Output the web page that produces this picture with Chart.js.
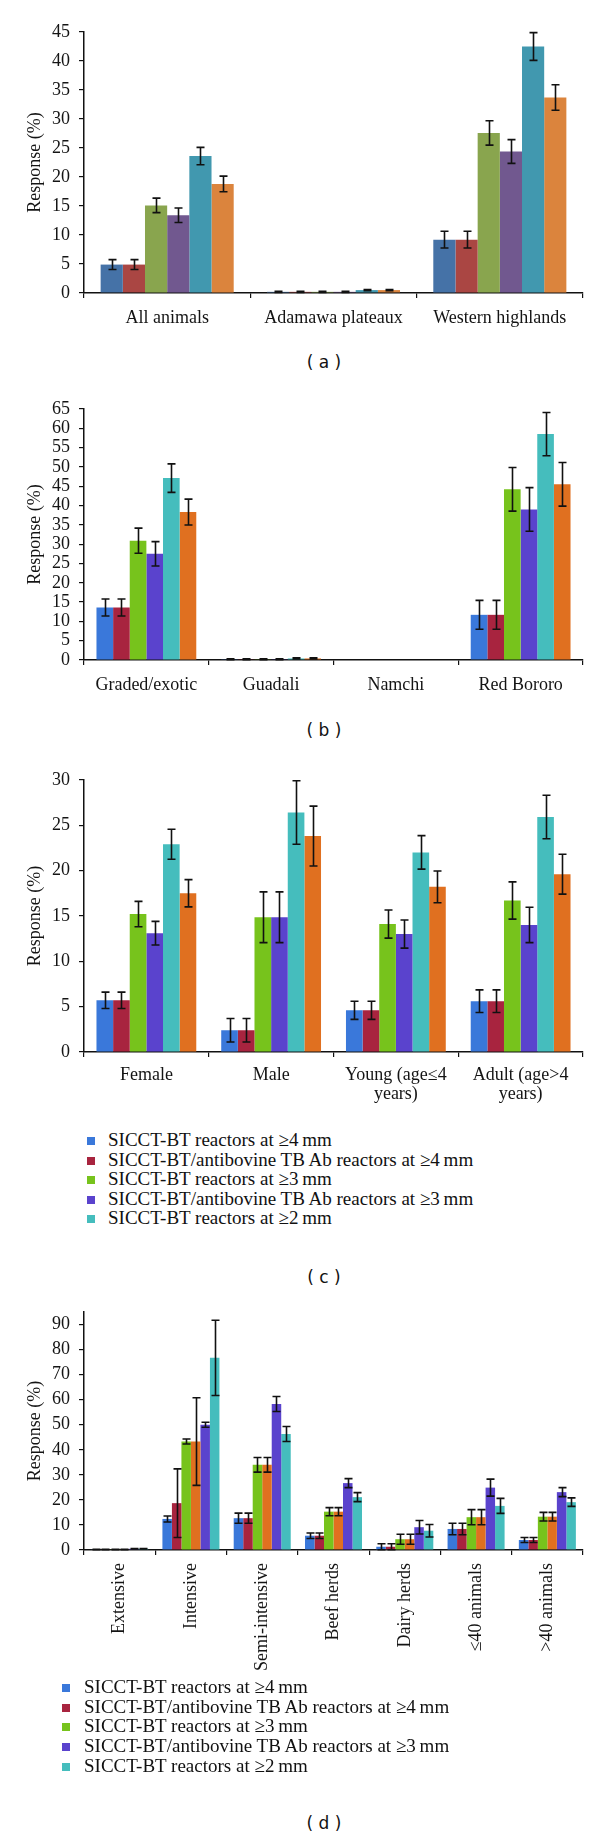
<!DOCTYPE html>
<html>
<head>
<meta charset="utf-8">
<script src="https://cdn.jsdelivr.net/npm/chart.js@4.4.1/dist/chart.umd.min.js"></script>
<style>
  html, body { margin:0; padding:0; background:#fff; }
  body { width:600px; height:1839px; position:relative; overflow:hidden; }
  canvas { position:absolute; left:0; }
  .sub { position:absolute; left:274px; width:100px; text-align:center; font-family:"DejaVu Sans", sans-serif; font-size:17px; color:#111; line-height:20px; white-space:pre; }
  .leg { position:absolute; font-family:"Liberation Serif", serif; font-size:19px; color:#111; line-height:20px; white-space:nowrap; }
  .sw { position:absolute; width:8px; height:8px; }
</style>
</head>
<body>
<canvas id="ca" width="600" height="345" style="top:0px"></canvas>
<canvas id="cb" width="600" height="325" style="top:380px"></canvas>
<canvas id="cc" width="600" height="355" style="top:760px"></canvas>
<canvas id="cd" width="600" height="390" style="top:1290px"></canvas>
<div class="sub" style="top:352px">( a )</div>
<div class="sub" style="top:720px">( b )</div>
<div class="sub" style="top:1267px">( c )</div>
<div class="sub" style="top:1813px">( d )</div>
<div id="legc"></div>
<div id="legd"></div>
<script>
// ---------- Panel (a) ----------
const A_CATS = ['All animals', 'Adamawa plateaux', 'Western highlands'];
const A_S1 = [4.9, 0.2, 9.2];   const A_E1 = [0.85, 0.1, 1.45];
const A_S2 = [4.9, 0.2, 9.2];   const A_E2 = [0.85, 0.1, 1.45];
const A_S3 = [15.1, 0.2, 27.6]; const A_E3 = [1.25, 0.1, 2.1];
const A_S4 = [13.4, 0.2, 24.4]; const A_E4 = [1.25, 0.1, 2.05];
const A_S5 = [23.6, 0.5, 42.5]; const A_E5 = [1.5, 0.1, 2.4];
const A_S6 = [18.8, 0.5, 33.7]; const A_E6 = [1.35, 0.1, 2.2];
const A_COLORS = ['#4572A7', '#AA4643', '#89A54E', '#71588F', '#4198AF', '#DB843D'];

// ---------- Panel (b) ----------
const B_CATS = ['Graded/exotic', 'Guadali', 'Namchi', 'Red Bororo'];
const B_S1 = [13.6, 0.2, 0, 11.7]; const B_E1 = [2.2, 0.1, 0, 3.75];
const B_S2 = [13.6, 0.2, 0, 11.7]; const B_E2 = [2.2, 0.1, 0, 3.75];
const B_S3 = [30.9, 0.2, 0, 44.2]; const B_E3 = [3.25, 0.1, 0, 5.65];
const B_S4 = [27.5, 0.2, 0, 39.0]; const B_E4 = [3.15, 0.1, 0, 5.65];
const B_S5 = [47.1, 0.4, 0, 58.5]; const B_E5 = [3.7, 0.15, 0, 5.6];
const B_S6 = [38.3, 0.4, 0, 45.5]; const B_E6 = [3.35, 0.15, 0, 5.65];

// ---------- Panel (c) ----------
const C_CATS = ['Female', 'Male', ['Young (age\u22644', 'years)'], ['Adult (age>4', 'years)']];
const C_S1 = [5.7, 2.4, 4.6, 5.6];     const C_E1 = [0.9, 1.3, 1.0, 1.25];
const C_S2 = [5.7, 2.4, 4.6, 5.6];     const C_E2 = [0.9, 1.3, 1.0, 1.25];
const C_S3 = [15.2, 14.85, 14.1, 16.7]; const C_E3 = [1.4, 2.8, 1.55, 2.05];
const C_S4 = [13.1, 14.85, 13.0, 14.0]; const C_E4 = [1.3, 2.8, 1.55, 1.95];
const C_S5 = [22.9, 26.4, 22.0, 25.9];  const C_E5 = [1.65, 3.5, 1.85, 2.4];
const C_S6 = [17.5, 23.8, 18.2, 19.6];  const C_E6 = [1.5, 3.3, 1.75, 2.2];
const BC_COLORS = ['#3A78DA', '#A8243F', '#77C31C', '#5A43CD', '#45BDBD', '#E07020'];

// ---------- Panel (d) ----------
const D_CATS = ['Extensive', 'Intensive', 'Semi-intensive', 'Beef herds', 'Dairy herds', '\u226440 animals', '>40 animals'];
const D_S1 = [0.2, 12.4, 12.7, 5.7, 1.3, 8.4, 4.0];    const D_E1 = [0.1, 1.2, 2.0, 1.1, 1.2, 2.3, 1.0];
const D_S2 = [0.2, 18.7, 12.7, 5.7, 1.3, 8.4, 4.0];    const D_E2 = [0.1, 13.7, 2.0, 1.1, 1.2, 2.3, 1.0];
const D_S3 = [0.2, 43.3, 34.0, 15.3, 4.3, 13.1, 13.3]; const D_E3 = [0.1, 1.0, 2.9, 1.6, 2.0, 3.0, 1.7];
const D_S4 = [0.2, 43.3, 34.0, 15.3, 4.3, 13.1, 13.3]; const D_E4 = [0.1, 17.5, 2.9, 1.6, 2.0, 3.0, 1.7];
const D_S5 = [0.5, 50.0, 58.3, 26.7, 9.1, 24.9, 23.1]; const D_E5 = [0.1, 1.0, 3.0, 1.8, 2.7, 3.4, 1.8];
const D_S6 = [0.5, 76.7, 46.3, 21.1, 7.7, 17.6, 19.1]; const D_E6 = [0.1, 15.0, 3.0, 1.8, 2.5, 3.0, 1.7];
const D_COLORS = ['#3A78DA', '#A8243F', '#77C31C', '#E07020', '#5A43CD', '#45BDBD'];

const SERIES_NAMES = [
  'SICCT-BT reactors at \u22654\u2009mm',
  'SICCT-BT/antibovine TB Ab reactors at \u22654\u2009mm',
  'SICCT-BT reactors at \u22653\u2009mm',
  'SICCT-BT/antibovine TB Ab reactors at \u22653\u2009mm',
  'SICCT-BT reactors at \u22652\u2009mm',
  'Series 6'
];
const LEGEND_COLORS = ['#3A78DA', '#A8243F', '#77C31C', '#5A43CD', '#45BDBD'];

const SERIF = '"Liberation Serif", "Times New Roman", serif';
const INK = '#141414';

const errPlugin = {
  id: 'errbars',
  afterDatasetsDraw(chart) {
    const ctx = chart.ctx, ys = chart.scales.y;
    chart.data.datasets.forEach((ds, di) => {
      if (!ds.err) return;
      const meta = chart.getDatasetMeta(di);
      meta.data.forEach((bar, i) => {
        const e = ds.err[i];
        if (!e) return;
        const v = ds.data[i];
        const yt = ys.getPixelForValue(v + e);
        const yb = ys.getPixelForValue(Math.max(0, v - e));
        const x = Math.round(bar.x) + 0.5, w = 4;
        ctx.save();
        ctx.strokeStyle = '#111';
        ctx.lineWidth = 1.6;
        ctx.beginPath();
        ctx.moveTo(x, yt); ctx.lineTo(x, yb);
        ctx.moveTo(x - w, yt); ctx.lineTo(x + w, yt);
        ctx.moveTo(x - w, yb); ctx.lineTo(x + w, yb);
        ctx.stroke();
        ctx.restore();
      });
    });
  }
};

function ds(label, data, err, color) {
  return { label, data, err, backgroundColor: color, borderWidth: 0,
           categoryPercentage: 0.8, barPercentage: 1.0 };
}

function build(id, cats, datasets, ymax, step, padTop, xHeight, rot, tickPad) {
  return new Chart(document.getElementById(id), {
    type: 'bar',
    data: { labels: cats, datasets },
    plugins: [errPlugin],
    options: {
      responsive: false, animation: false, devicePixelRatio: 1,
      layout: { padding: { top: padTop, right: 17, left: 0, bottom: 0 } },
      plugins: { legend: { display: false }, tooltip: { enabled: false } },
      scales: {
        x: {
          offset: true,
          grid: { display: true, offset: true, drawOnChartArea: false, drawTicks: true, tickLength: 5, color: '#111', lineWidth: 1.2 },
          border: { display: true, color: '#111', width: 1.5 },
          ticks: { color: INK, font: { family: SERIF, size: 18, lineHeight: 1.1 }, padding: tickPad,
                   autoSkip: false, maxRotation: rot, minRotation: rot },
          afterFit: s => { s.height = xHeight; }
        },
        y: {
          min: 0, max: ymax,
          grid: { display: true, drawOnChartArea: false, drawTicks: true, tickLength: 5, color: '#111', lineWidth: 1.2 },
          border: { display: true, color: '#111', width: 1.5 },
          ticks: { stepSize: step, includeBounds: false, autoSkip: false, color: INK, padding: 9,
                   font: { family: SERIF, size: 18 } },
          title: { display: true, text: 'Response (%)', color: INK,
                   font: { family: SERIF, size: 18 }, padding: { top: 24, bottom: 0 } },
          afterFit: s => { s.width = 84; }
        }
      }
    }
  });
}

build('ca', A_CATS, [
  ds(SERIES_NAMES[0], A_S1, A_E1, A_COLORS[0]),
  ds(SERIES_NAMES[1], A_S2, A_E2, A_COLORS[1]),
  ds(SERIES_NAMES[2], A_S3, A_E3, A_COLORS[2]),
  ds(SERIES_NAMES[3], A_S4, A_E4, A_COLORS[3]),
  ds(SERIES_NAMES[4], A_S5, A_E5, A_COLORS[4]),
  ds(SERIES_NAMES[5], A_S6, A_E6, A_COLORS[5])
], 45, 5, 32, 52, 0, 10);

build('cb', B_CATS, [
  ds(SERIES_NAMES[0], B_S1, B_E1, BC_COLORS[0]),
  ds(SERIES_NAMES[1], B_S2, B_E2, BC_COLORS[1]),
  ds(SERIES_NAMES[2], B_S3, B_E3, BC_COLORS[2]),
  ds(SERIES_NAMES[3], B_S4, B_E4, BC_COLORS[3]),
  ds(SERIES_NAMES[4], B_S5, B_E5, BC_COLORS[4]),
  ds(SERIES_NAMES[5], B_S6, B_E6, BC_COLORS[5])
], 65, 5, 29, 45, 0, 10);

build('cc', C_CATS, [
  ds(SERIES_NAMES[0], C_S1, C_E1, BC_COLORS[0]),
  ds(SERIES_NAMES[1], C_S2, C_E2, BC_COLORS[1]),
  ds(SERIES_NAMES[2], C_S3, C_E3, BC_COLORS[2]),
  ds(SERIES_NAMES[3], C_S4, C_E4, BC_COLORS[3]),
  ds(SERIES_NAMES[4], C_S5, C_E5, BC_COLORS[4]),
  ds(SERIES_NAMES[5], C_S6, C_E6, BC_COLORS[5])
], 30, 5, 16, 63, 0, 8);

build('cd', D_CATS, [
  ds(SERIES_NAMES[0], D_S1, D_E1, D_COLORS[0]),
  ds(SERIES_NAMES[1], D_S2, D_E2, D_COLORS[1]),
  ds(SERIES_NAMES[2], D_S3, D_E3, D_COLORS[2]),
  ds('Series 4', D_S4, D_E4, D_COLORS[3]),
  ds(SERIES_NAMES[3], D_S5, D_E5, D_COLORS[4]),
  ds(SERIES_NAMES[4], D_S6, D_E6, D_COLORS[5])
], 95, 10, 22, 130, 90, 8);

function legend(containerId, top, swLeft, textLeft, step) {
  const c = document.getElementById(containerId);
  for (let i = 0; i < 5; i++) {
    const y = top + i * step;
    const sw = document.createElement('div');
    sw.className = 'sw';
    sw.style.left = swLeft + 'px'; sw.style.top = (y - 4) + 'px';
    sw.style.background = LEGEND_COLORS[i];
    c.appendChild(sw);
    const t = document.createElement('div');
    t.className = 'leg';
    t.style.left = textLeft + 'px'; t.style.top = (y - 11) + 'px';
    t.textContent = SERIES_NAMES[i];
    c.appendChild(t);
  }
}
legend('legc', 1141, 87, 108, 19.5);
legend('legd', 1688, 62, 84, 19.7);
</script>
</body>
</html>
